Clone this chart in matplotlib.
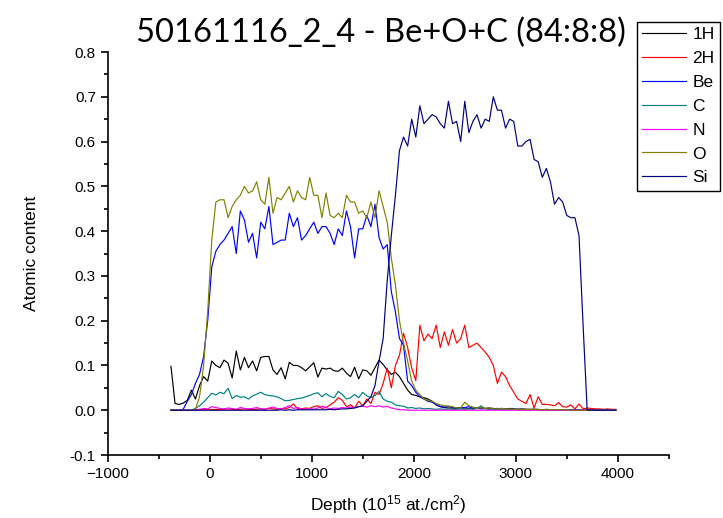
import matplotlib
matplotlib.use("Agg")
import matplotlib.pyplot as plt
from matplotlib.ticker import MultipleLocator, FormatStrFormatter

plt.rcParams["font.family"] = ["Liberation Sans", "DejaVu Sans"]
plt.rcParams["mathtext.default"] = "regular"

depth = [-380, -340, -300, -260, -220, -180, -140, -100, -60, -20,
         20, 60, 100, 140, 180, 220, 260, 300, 340, 380,
         420, 460, 500, 540, 580, 620, 660, 700, 740, 780,
         820, 860, 900, 940, 980, 1020, 1060, 1100, 1140, 1180,
         1220, 1260, 1300, 1340, 1380, 1420, 1460, 1500, 1540, 1580,
         1620, 1660, 1700, 1740, 1780, 1820, 1860, 1900, 1940, 1980,
         2020, 2060, 2100, 2140, 2180, 2220, 2260, 2300, 2340, 2380,
         2420, 2460, 2500, 2540, 2580, 2620, 2660, 2700, 2740, 2780,
         2820, 2860, 2900, 2940, 2980, 3020, 3060, 3100, 3140, 3180,
         3220, 3260, 3300, 3340, 3380, 3420, 3460, 3500, 3540, 3580,
         3620, 3660, 3700, 3740, 3780, 3820, 3860, 3900, 3940, 3980]

h1 = [0.098, 0.015, 0.013, 0.016, 0.022, 0.045, 0.025, 0.055, 0.075, 0.065,
      0.110, 0.100, 0.095, 0.112, 0.105, 0.072, 0.132, 0.090, 0.118, 0.095,
      0.110, 0.088, 0.118, 0.120, 0.120, 0.090, 0.080, 0.095, 0.070, 0.107,
      0.100, 0.100, 0.095, 0.088, 0.097, 0.106, 0.074, 0.094, 0.092, 0.094,
      0.088, 0.087, 0.094, 0.083, 0.075, 0.096, 0.070, 0.090, 0.088, 0.078,
      0.095, 0.112, 0.102, 0.090, 0.080, 0.085, 0.075, 0.060, 0.045, 0.035,
      0.033, 0.030, 0.028, 0.025, 0.020, 0.012, 0.008, 0.006, 0.005, 0.005,
      0.004, 0.006, 0.005, 0.004, 0.005, 0.004, 0.006, 0.004, 0.005, 0.004,
      0.003, 0.004, 0.003, 0.004, 0.003, 0.002, 0.003, 0.002, 0.002, 0.002,
      0.002, 0.001, 0.002, 0.001, 0.001, 0.001, 0.001, 0.001, 0.001, 0.001,
      0.001, 0.001, 0.001, 0.001, 0.001, 0.001, 0.001, 0.001, 0.001, 0.001]

h2 = [0.000, 0.000, 0.000, 0.000, 0.000, 0.000, 0.000, 0.001, 0.001, 0.002,
      0.001, 0.002, 0.001, 0.002, 0.003, 0.002, 0.001, 0.002, 0.003, 0.002,
      0.001, 0.002, 0.003, 0.002, 0.004, 0.003, 0.002, 0.004, 0.003, 0.006,
      0.014, 0.004, 0.003, 0.005, 0.004, 0.008, 0.010, 0.004, 0.006, 0.012,
      0.018, 0.028, 0.022, 0.008, 0.012, 0.005, 0.020, 0.010, 0.025, 0.015,
      0.040, 0.035, 0.060, 0.094, 0.050, 0.100, 0.123, 0.172, 0.140, 0.094,
      0.066, 0.190, 0.155, 0.170, 0.160, 0.190, 0.140, 0.175, 0.145, 0.180,
      0.150, 0.160, 0.190, 0.140, 0.145, 0.150, 0.140, 0.130, 0.118, 0.100,
      0.060, 0.085, 0.075, 0.055, 0.040, 0.025, 0.020, 0.015, 0.035, 0.005,
      0.030, 0.013, 0.013, 0.012, 0.010, 0.017, 0.008, 0.007, 0.012, 0.003,
      0.014, 0.003, 0.005, 0.004, 0.003, 0.003, 0.002, 0.003, 0.002, 0.002]

be = [0.000, 0.000, 0.000, 0.002, 0.020, 0.035, 0.060, 0.080, 0.120, 0.200,
      0.320, 0.355, 0.370, 0.380, 0.395, 0.410, 0.350, 0.445, 0.425, 0.375,
      0.395, 0.340, 0.420, 0.405, 0.455, 0.370, 0.375, 0.380, 0.380, 0.440,
      0.410, 0.430, 0.380, 0.390, 0.405, 0.420, 0.395, 0.410, 0.410, 0.395,
      0.370, 0.405, 0.390, 0.445, 0.410, 0.340, 0.405, 0.405, 0.435, 0.410,
      0.460, 0.385, 0.360, 0.370, 0.265, 0.220, 0.160, 0.145, 0.065, 0.055,
      0.040, 0.030, 0.025, 0.020, 0.018, 0.012, 0.008, 0.007, 0.009, 0.006,
      0.005, 0.004, 0.006, 0.008, 0.004, 0.005, 0.003, 0.004, 0.003, 0.003,
      0.004, 0.003, 0.003, 0.002, 0.003, 0.002, 0.002, 0.002, 0.001, 0.002,
      0.001, 0.001, 0.001, 0.001, 0.001, 0.001, 0.001, 0.001, 0.001, 0.001,
      0.001, 0.000, 0.000, 0.000, 0.000, 0.000, 0.000, 0.000, 0.000, 0.000]

c = [0.000, 0.000, 0.000, 0.000, 0.000, 0.000, 0.004, 0.010, 0.018, 0.028,
     0.038, 0.034, 0.040, 0.037, 0.049, 0.026, 0.033, 0.029, 0.030, 0.025,
     0.032, 0.036, 0.040, 0.035, 0.033, 0.032, 0.030, 0.026, 0.021, 0.022,
     0.024, 0.026, 0.027, 0.030, 0.033, 0.037, 0.039, 0.030, 0.037, 0.031,
     0.028, 0.042, 0.035, 0.025, 0.028, 0.035, 0.028, 0.040, 0.032, 0.028,
     0.033, 0.042, 0.025, 0.020, 0.018, 0.012, 0.010, 0.009, 0.005, 0.006,
     0.004, 0.005, 0.003, 0.004, 0.003, 0.002, 0.003, 0.002, 0.003, 0.002,
     0.002, 0.003, 0.002, 0.003, 0.002, 0.004, 0.010, 0.003, 0.002, 0.002,
     0.002, 0.001, 0.002, 0.001, 0.002, 0.001, 0.001, 0.001, 0.001, 0.001,
     0.001, 0.001, 0.001, 0.001, 0.001, 0.001, 0.001, 0.001, 0.000, 0.000,
     0.000, 0.000, 0.000, 0.000, 0.000, 0.000, 0.000, 0.000, 0.000, 0.000]

n = [0.000, 0.000, 0.000, 0.000, 0.000, 0.000, 0.001, 0.002, 0.004, 0.003,
     0.008, 0.006, 0.004, 0.003, 0.005, 0.004, 0.002, 0.006, 0.004, 0.003,
     0.004, 0.006, 0.003, 0.002, 0.005, 0.007, 0.004, 0.003, 0.006, 0.010,
     0.004, 0.006, 0.003, 0.002, 0.004, 0.002, 0.005, 0.009, 0.006, 0.003,
     0.005, 0.004, 0.006, 0.005, 0.007, 0.006, 0.008, 0.009, 0.007, 0.010,
     0.008, 0.010, 0.007, 0.009, 0.005, 0.003, 0.001, 0.001, 0.000, 0.000,
     0.000, 0.000, 0.000, 0.000, 0.000, 0.000, 0.000, 0.000, 0.000, 0.000,
     0.000, 0.000, 0.000, 0.000, 0.000, 0.000, 0.000, 0.000, 0.000, 0.000,
     0.000, 0.000, 0.000, 0.000, 0.000, 0.000, 0.000, 0.000, 0.000, 0.000,
     0.000, 0.000, 0.000, 0.000, 0.000, 0.000, 0.000, 0.000, 0.000, 0.000,
     0.000, 0.000, 0.000, 0.000, 0.000, 0.000, 0.000, 0.000, 0.000, 0.000]

o = [0.000, 0.000, 0.000, 0.000, 0.000, 0.000, 0.002, 0.030, 0.100, 0.220,
     0.380, 0.465, 0.470, 0.470, 0.430, 0.455, 0.470, 0.480, 0.500, 0.485,
     0.490, 0.510, 0.470, 0.460, 0.520, 0.440, 0.475, 0.470, 0.485, 0.500,
     0.465, 0.490, 0.475, 0.470, 0.520, 0.480, 0.480, 0.430, 0.485, 0.435,
     0.430, 0.440, 0.430, 0.480, 0.465, 0.465, 0.440, 0.445, 0.430, 0.465,
     0.430, 0.490, 0.455, 0.420, 0.340, 0.280, 0.200, 0.150, 0.110, 0.065,
     0.045, 0.035, 0.025, 0.022, 0.020, 0.015, 0.012, 0.010, 0.009, 0.008,
     0.005, 0.005, 0.018, 0.010, 0.007, 0.004, 0.006, 0.004, 0.005, 0.003,
     0.003, 0.004, 0.003, 0.003, 0.002, 0.003, 0.002, 0.002, 0.002, 0.002,
     0.001, 0.001, 0.001, 0.001, 0.001, 0.001, 0.001, 0.001, 0.000, 0.000,
     0.000, 0.000, 0.000, 0.000, 0.000, 0.000, 0.000, 0.000, 0.000, 0.000]

si = [0.000, 0.000, 0.000, 0.000, 0.000, 0.000, 0.000, 0.000, 0.000, 0.000,
      0.000, 0.000, 0.000, 0.000, 0.000, 0.000, 0.000, 0.000, 0.000, 0.000,
      0.000, 0.000, 0.000, 0.000, 0.000, 0.000, 0.000, 0.001, 0.000, 0.001,
      0.000, 0.001, 0.001, 0.001, 0.001, 0.001, 0.001, 0.001, 0.001, 0.002,
      0.001, 0.002, 0.003, 0.003, 0.004, 0.005, 0.008, 0.010, 0.020, 0.030,
      0.055, 0.110, 0.160, 0.290, 0.390, 0.480, 0.580, 0.610, 0.590, 0.650,
      0.610, 0.680, 0.640, 0.650, 0.660, 0.655, 0.640, 0.630, 0.690, 0.640,
      0.645, 0.600, 0.690, 0.620, 0.645, 0.660, 0.630, 0.650, 0.645, 0.700,
      0.670, 0.670, 0.630, 0.650, 0.645, 0.590, 0.590, 0.600, 0.605, 0.560,
      0.555, 0.520, 0.540, 0.510, 0.460, 0.475, 0.465, 0.435, 0.430, 0.430,
      0.390, 0.190, 0.001, 0.000, 0.000, 0.000, 0.000, 0.000, 0.000, 0.000]

labels = ["1H", "2H", "Be", "C", "N", "O", "Si"]
colors = ["#000000", "#ff0000", "#0000ff", "#008080", "#ff00ff", "#808000", "#000080"]
series = [h1, h2, be, c, n, o, si]

fig = plt.figure(figsize=(7.23, 5.18), dpi=100)
ax = fig.add_axes([0.149, 0.1216, 0.776, 0.778])

for vals, lab, col in zip(series, labels, colors):
    ax.plot(depth, vals, color=col, lw=0.85, label=lab)

ax.set_xlim(-1000, 4500)
ax.set_ylim(-0.1, 0.8)
ax.xaxis.set_major_locator(MultipleLocator(1000))
ax.xaxis.set_minor_locator(MultipleLocator(500))
ax.yaxis.set_major_locator(MultipleLocator(0.1))
ax.yaxis.set_minor_locator(MultipleLocator(0.05))
ax.yaxis.set_major_formatter(FormatStrFormatter("%.1f"))
ax.set_xticks([-1000, 0, 1000, 2000, 3000, 4000])

for side in ["top", "right"]:
    ax.spines[side].set_visible(False)
for side in ["left", "bottom"]:
    ax.spines[side].set_linewidth(1.2)
ax.tick_params(which="major", direction="out", length=5, width=1.2, labelsize=11)
ax.tick_params(which="minor", direction="out", length=3, width=1.2)

ax.set_xlabel("Depth (10$^{15}$ at./cm$^{2}$)", fontsize=12.5, labelpad=9)
ax.set_ylabel("Atomic content", fontsize=12.5, labelpad=22)

fig.text(0.527, 0.937, "50161116_2_4 - Be+O+C (84:8:8)", ha="center", va="center",
         fontsize=23.5, family=["Lato", "DejaVu Sans"])

leg = fig.legend(loc="upper left", bbox_to_anchor=(0.881, 0.9575), fontsize=12.5,
                 frameon=True, fancybox=False, edgecolor="black", framealpha=1,
                 handlelength=2.5, handletextpad=0.4, labelspacing=0.5,
                 borderpad=0.3, borderaxespad=0)
leg.get_frame().set_linewidth(1.0)

fig.savefig("out.png", dpi=100)
